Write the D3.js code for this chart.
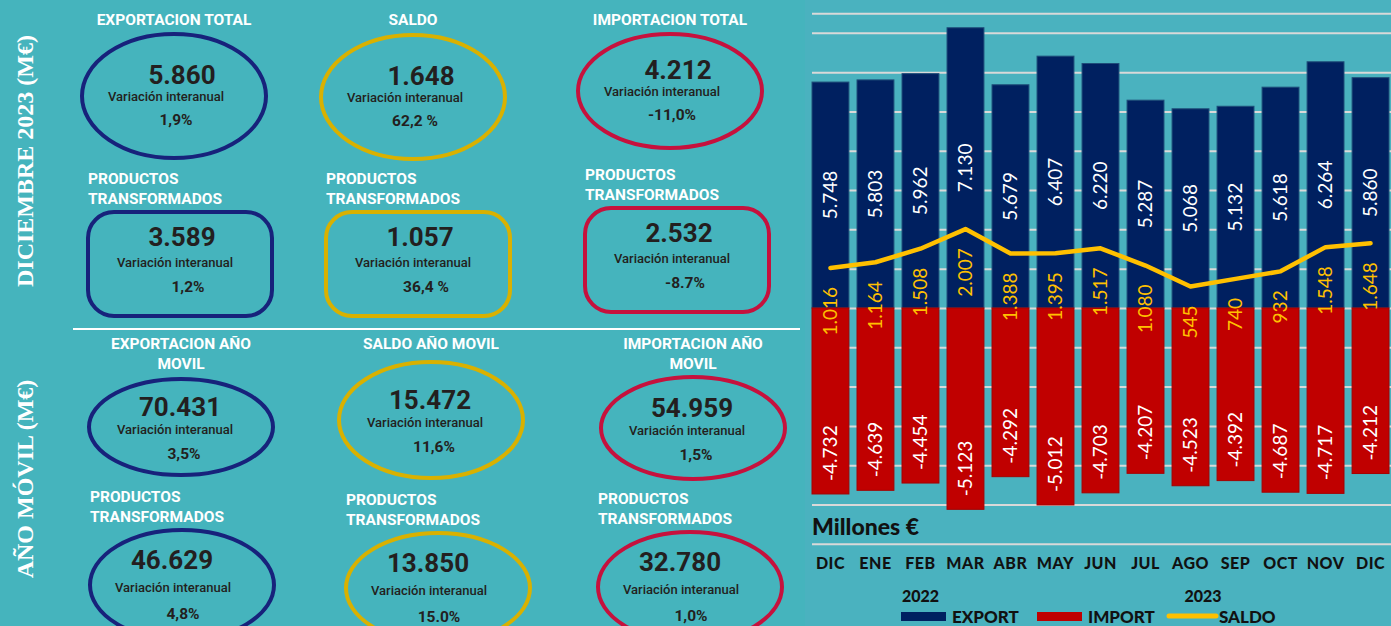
<!DOCTYPE html>
<html>
<head>
<meta charset="utf-8">
<script src="https://cdn.jsdelivr.net/npm/d3@7"></script>
<style>
  html, body { margin: 0; padding: 0; background: #45b4bd; overflow: hidden; }
  svg { display: block; }
</style>
</head>
<body>
<div id="chart"></div>
<script>
// ---- chart data ----
let months = ["DIC", "ENE", "FEB", "MAR", "ABR", "MAY", "JUN", "JUL", "AGO", "SEP", "OCT", "NOV", "DIC"];
let exportVals = [5748, 5803, 5962, 7130, 5679, 6407, 6220, 5287, 5068, 5132, 5618, 6264, 5860];
let importVals = [-4732, -4639, -4454, -5123, -4292, -5012, -4703, -4207, -4523, -4392, -4687, -4717, -4212];
let saldoVals = [1016, 1164, 1508, 2007, 1388, 1395, 1517, 1080, 545, 740, 932, 1548, 1648];
let years = ["2022", "2023"];
let legendItems = ["EXPORT", "IMPORT", "SALDO"];
let gridTicks = [-6000, -5000, -4000, -3000, -2000, -1000, 0, 1000, 2000, 3000, 4000, 5000, 6000, 7000, 7500];

// ---- KPI panel data ----
let sectionLabels = ["DICIEMBRE 2023 (M€)", "AÑO MÓVIL (M€)"];
let kpiTitles = [
	["EXPORTACION TOTAL"], ["SALDO"], ["IMPORTACION TOTAL"],
	["PRODUCTOS", "TRANSFORMADOS"], ["PRODUCTOS", "TRANSFORMADOS"], ["PRODUCTOS", "TRANSFORMADOS"],
	["EXPORTACION AÑO", "MOVIL"], ["SALDO AÑO MOVIL"], ["IMPORTACION AÑO", "MOVIL"],
	["PRODUCTOS", "TRANSFORMADOS"], ["PRODUCTOS", "TRANSFORMADOS"], ["PRODUCTOS", "TRANSFORMADOS"],
];
let kpiValues = [5860, 1648, 4212, 3589, 1057, 2532, 70431, 15472, 54959, 46629, 13850, 32780];
let kpiChanges = ["1,9%", "62,2 %", "-11,0%", "1,2%", "36,4 %", "-8.7%", "3,5%", "11,6%", "1,5%", "4,8%", "15.0%", "1,0%"];
let kpiKind = ["export", "saldo", "import", "export", "saldo", "import", "export", "saldo", "import", "export", "saldo", "import"];

let es = d3.formatLocale({ decimal: ",", thousands: ".", grouping: [3], currency: ["", "€"], minus: "-" });
let fmt = es.format(",d");

let W = 1391, H = 626;
let navy = "#002060", red = "#c00000", gold = "#ffc000";
let ring = { export: "#17227b", saldo: "#d9b100", import: "#c6113d" };
let dark = "#231f20";
let dinFont = "Roboto, 'DejaVu Sans', sans-serif";
let gillFont = "Lato, 'Open Sans', sans-serif";

let svg = d3.select("#chart").append("svg").attr("width", W).attr("height", H);

// backgrounds
svg.append("rect").attr("width", W).attr("height", H).attr("fill", "#45b4bd");
svg.append("rect").attr("x", 805).attr("width", W - 805).attr("height", H).attr("fill", "#4ab2bf");

// ================= left KPI panel =================
// card layout (centre x, centre y, half height), row by row
let cardCx = [174, 413, 670, 180, 418, 677, 181, 431, 693, 182, 438, 690];
let cardCy = [96, 97, 91, 264, 264, 260, 427, 420, 428, 585, 588, 587];
let cardRy = [62, 62, 57, 52, 52, 52, 48, 58, 51, 55, 55, 55];
let rowText = [
	{ v: [8, -12], t: [-8, 5], p: [2, 29] },
	{ v: [2, -18], t: [-5, 3], p: [8, 28] },
	{ v: [-1, -11], t: [-6, 7], p: [3, 32] },
	{ v: [-10, -16], t: [-9, 7], p: [1, 34] },
];
let rx = 92;

// section labels
[[25, 161], [25, 479]].forEach(([x, y], i) => {
	svg.append("text")
		.attr("transform", `translate(${x},${y}) rotate(-90)`)
		.attr("text-anchor", "middle")
		.attr("dy", "0.35em")
		.attr("fill", "#fff")
		.attr("font-family", "'Liberation Serif', 'DejaVu Serif', serif")
		.attr("font-weight", "bold")
		.attr("font-size", 24)
		.text(sectionLabels[i]);
});

svg.append("line")
	.attr("x1", 73).attr("x2", 800).attr("y1", 329).attr("y2", 329)
	.attr("stroke", "#fff").attr("stroke-width", 2);

let cards = svg.append("g").selectAll("g").data(kpiValues).join("g");

cards.each(function (d, i) {
	let g = d3.select(this);
	let row = Math.floor(i / 3);
	let cx = cardCx[i], cy = cardCy[i], ry = cardRy[i];
	let col = ring[kpiKind[i]];
	if (row === 1) {
		g.append("rect")
			.attr("x", cx - rx).attr("y", cy - ry)
			.attr("width", rx * 2).attr("height", ry * 2)
			.attr("rx", 26).attr("ry", 26)
			.attr("fill", "none").attr("stroke", col).attr("stroke-width", 4);
	} else {
		g.append("ellipse")
			.attr("cx", cx).attr("cy", cy).attr("rx", rx).attr("ry", ry)
			.attr("fill", "none").attr("stroke", col).attr("stroke-width", 4);
	}

	// titles
	let lines = kpiTitles[i];
	let centred = row === 0 || row === 2;
	let top = cy - ry;
	let title = g.append("text")
		.attr("fill", "#fff")
		.attr("font-family", dinFont)
		.attr("font-weight", 700)
		.attr("font-size", 15.5)
		.attr("text-anchor", centred ? "middle" : "start");
	lines.forEach((ln, k) => {
		let x = centred ? cx : cx - rx;
		let y = row === 0 ? 25 : row === 2 ? 349 + k * 20 : top - 28 + k * 20;
		title.append("tspan").attr("x", x).attr("y", y).text(ln);
	});

	let off = rowText[row];
	g.append("text")
		.attr("x", cx + off.v[0]).attr("y", cy + off.v[1])
		.attr("text-anchor", "middle")
		.attr("fill", dark).attr("font-family", dinFont)
		.attr("font-weight", 700).attr("font-size", 26)
		.text(fmt(d));
	g.append("text")
		.attr("x", cx + off.t[0]).attr("y", cy + off.t[1])
		.attr("text-anchor", "middle")
		.attr("fill", dark).attr("font-family", dinFont)
		.attr("font-weight", 500).attr("font-size", 13)
		.text("Variación interanual");
	g.append("text")
		.attr("x", cx + off.p[0]).attr("y", cy + off.p[1])
		.attr("text-anchor", "middle")
		.attr("fill", dark).attr("font-family", dinFont)
		.attr("font-weight", 700).attr("font-size", 15.5)
		.text(kpiChanges[i]);
});

// ================= bar chart =================
let idx = d3.range(months.length);
let xScale = d3.scaleBand().domain(idx).range([812, 1389]).paddingInner(0.18).paddingOuter(0);
let yScale = d3.scaleLinear().domain([-6000, 7500]).range([543.8, 13.2]);
let cx = (i) => xScale(i) + xScale.bandwidth() / 2;

// gridlines
svg.append("g")
	.attr("transform", "translate(812,0)")
	.call(d3.axisLeft(yScale).tickValues(gridTicks).tickSize(-(W - 812)).tickFormat(""))
	.call((g) => g.select(".domain").remove())
	.call((g) => g.selectAll("line").attr("stroke", "#d9d9d9").attr("stroke-width", 2));

// bars
svg.append("g").selectAll("rect").data(exportVals).join("rect")
	.attr("x", (d, i) => xScale(i))
	.attr("y", (d) => yScale(d))
	.attr("width", xScale.bandwidth())
	.attr("height", (d) => yScale(0) - yScale(d))
	.attr("fill", navy)
	.attr("stroke", "#1f4e79").attr("stroke-width", 1);

svg.append("g").selectAll("rect").data(importVals).join("rect")
	.attr("x", (d, i) => xScale(i))
	.attr("y", yScale(0))
	.attr("width", xScale.bandwidth())
	.attr("height", (d) => yScale(d) - yScale(0))
	.attr("fill", red)
	.attr("stroke", "#a50000").attr("stroke-width", 1);

// value labels
let labelStyle = (s) => s
	.attr("font-family", gillFont)
	.attr("font-size", 19)
	.attr("dy", "0.35em");

svg.append("g").selectAll("text").data(exportVals).join("text")
	.attr("transform", (d, i) => `translate(${cx(i)},${(yScale(d) + yScale(0)) / 2}) rotate(-90)`)
	.attr("text-anchor", "middle")
	.attr("fill", "#fff")
	.call(labelStyle)
	.text((d) => fmt(d));

svg.append("g").selectAll("text").data(importVals).join("text")
	.attr("transform", (d, i) => `translate(${cx(i)},${yScale(d) - 13}) rotate(-90)`)
	.attr("text-anchor", "start")
	.attr("fill", "#fff")
	.call(labelStyle)
	.text((d) => fmt(d));

svg.append("g").selectAll("text").data(saldoVals).join("text")
	.attr("transform", (d, i) => `translate(${cx(i)},${yScale(d) + 19}) rotate(-90)`)
	.attr("text-anchor", "end")
	.attr("fill", gold)
	.call(labelStyle)
	.text((d) => fmt(d));

// saldo line
let line = d3.line().x((d, i) => cx(i)).y((d) => yScale(d));
svg.append("path")
	.attr("d", line(saldoVals))
	.attr("fill", "none")
	.attr("stroke", gold)
	.attr("stroke-width", 4.5)
	.attr("stroke-linejoin", "round")
	.attr("stroke-linecap", "round");

// unit
svg.append("text")
	.attr("x", 812).attr("y", 535)
	.attr("fill", "#111").attr("font-family", gillFont)
	.attr("font-weight", 900).attr("font-size", 23)
	.text("Millones €");

// month axis
svg.append("g")
	.attr("transform", "translate(0,552)")
	.call(d3.axisBottom(xScale).tickSize(0).tickPadding(6).tickFormat((i) => months[i]))
	.call((g) => g.select(".domain").remove())
	.call((g) => g.selectAll("text")
		.attr("fill", "#111")
		.attr("font-family", gillFont)
		.attr("font-weight", 900)
		.attr("font-size", 16)
		.attr("letter-spacing", 0.5));

// years
let yearX = [cx(2), (cx(8) + cx(9)) / 2 - 10];
svg.append("g").selectAll("text").data(years).join("text")
	.attr("x", (d, i) => yearX[i]).attr("y", 602)
	.attr("text-anchor", "middle")
	.attr("fill", "#111").attr("font-family", gillFont)
	.attr("font-weight", 900).attr("font-size", 16)
	.text((d) => d);

// legend
let legend = svg.append("g");
let lx = [901, 1037, 1167];
legendItems.forEach((name, i) => {
	if (i < 2) {
		legend.append("rect")
			.attr("x", lx[i]).attr("y", 612).attr("width", 45).attr("height", 9)
			.attr("fill", i === 0 ? navy : red);
	} else {
		legend.append("line")
			.attr("x1", lx[i] + 2).attr("x2", lx[i] + 49).attr("y1", 616).attr("y2", 616)
			.attr("stroke", gold).attr("stroke-width", 5).attr("stroke-linecap", "round");
	}
	legend.append("text")
		.attr("x", lx[i] + (i < 2 ? 51 : 52)).attr("y", 623)
		.attr("fill", "#111").attr("font-family", gillFont)
		.attr("font-weight", 900).attr("font-size", 17)
		.text(name);
});
</script>
</body>
</html>
